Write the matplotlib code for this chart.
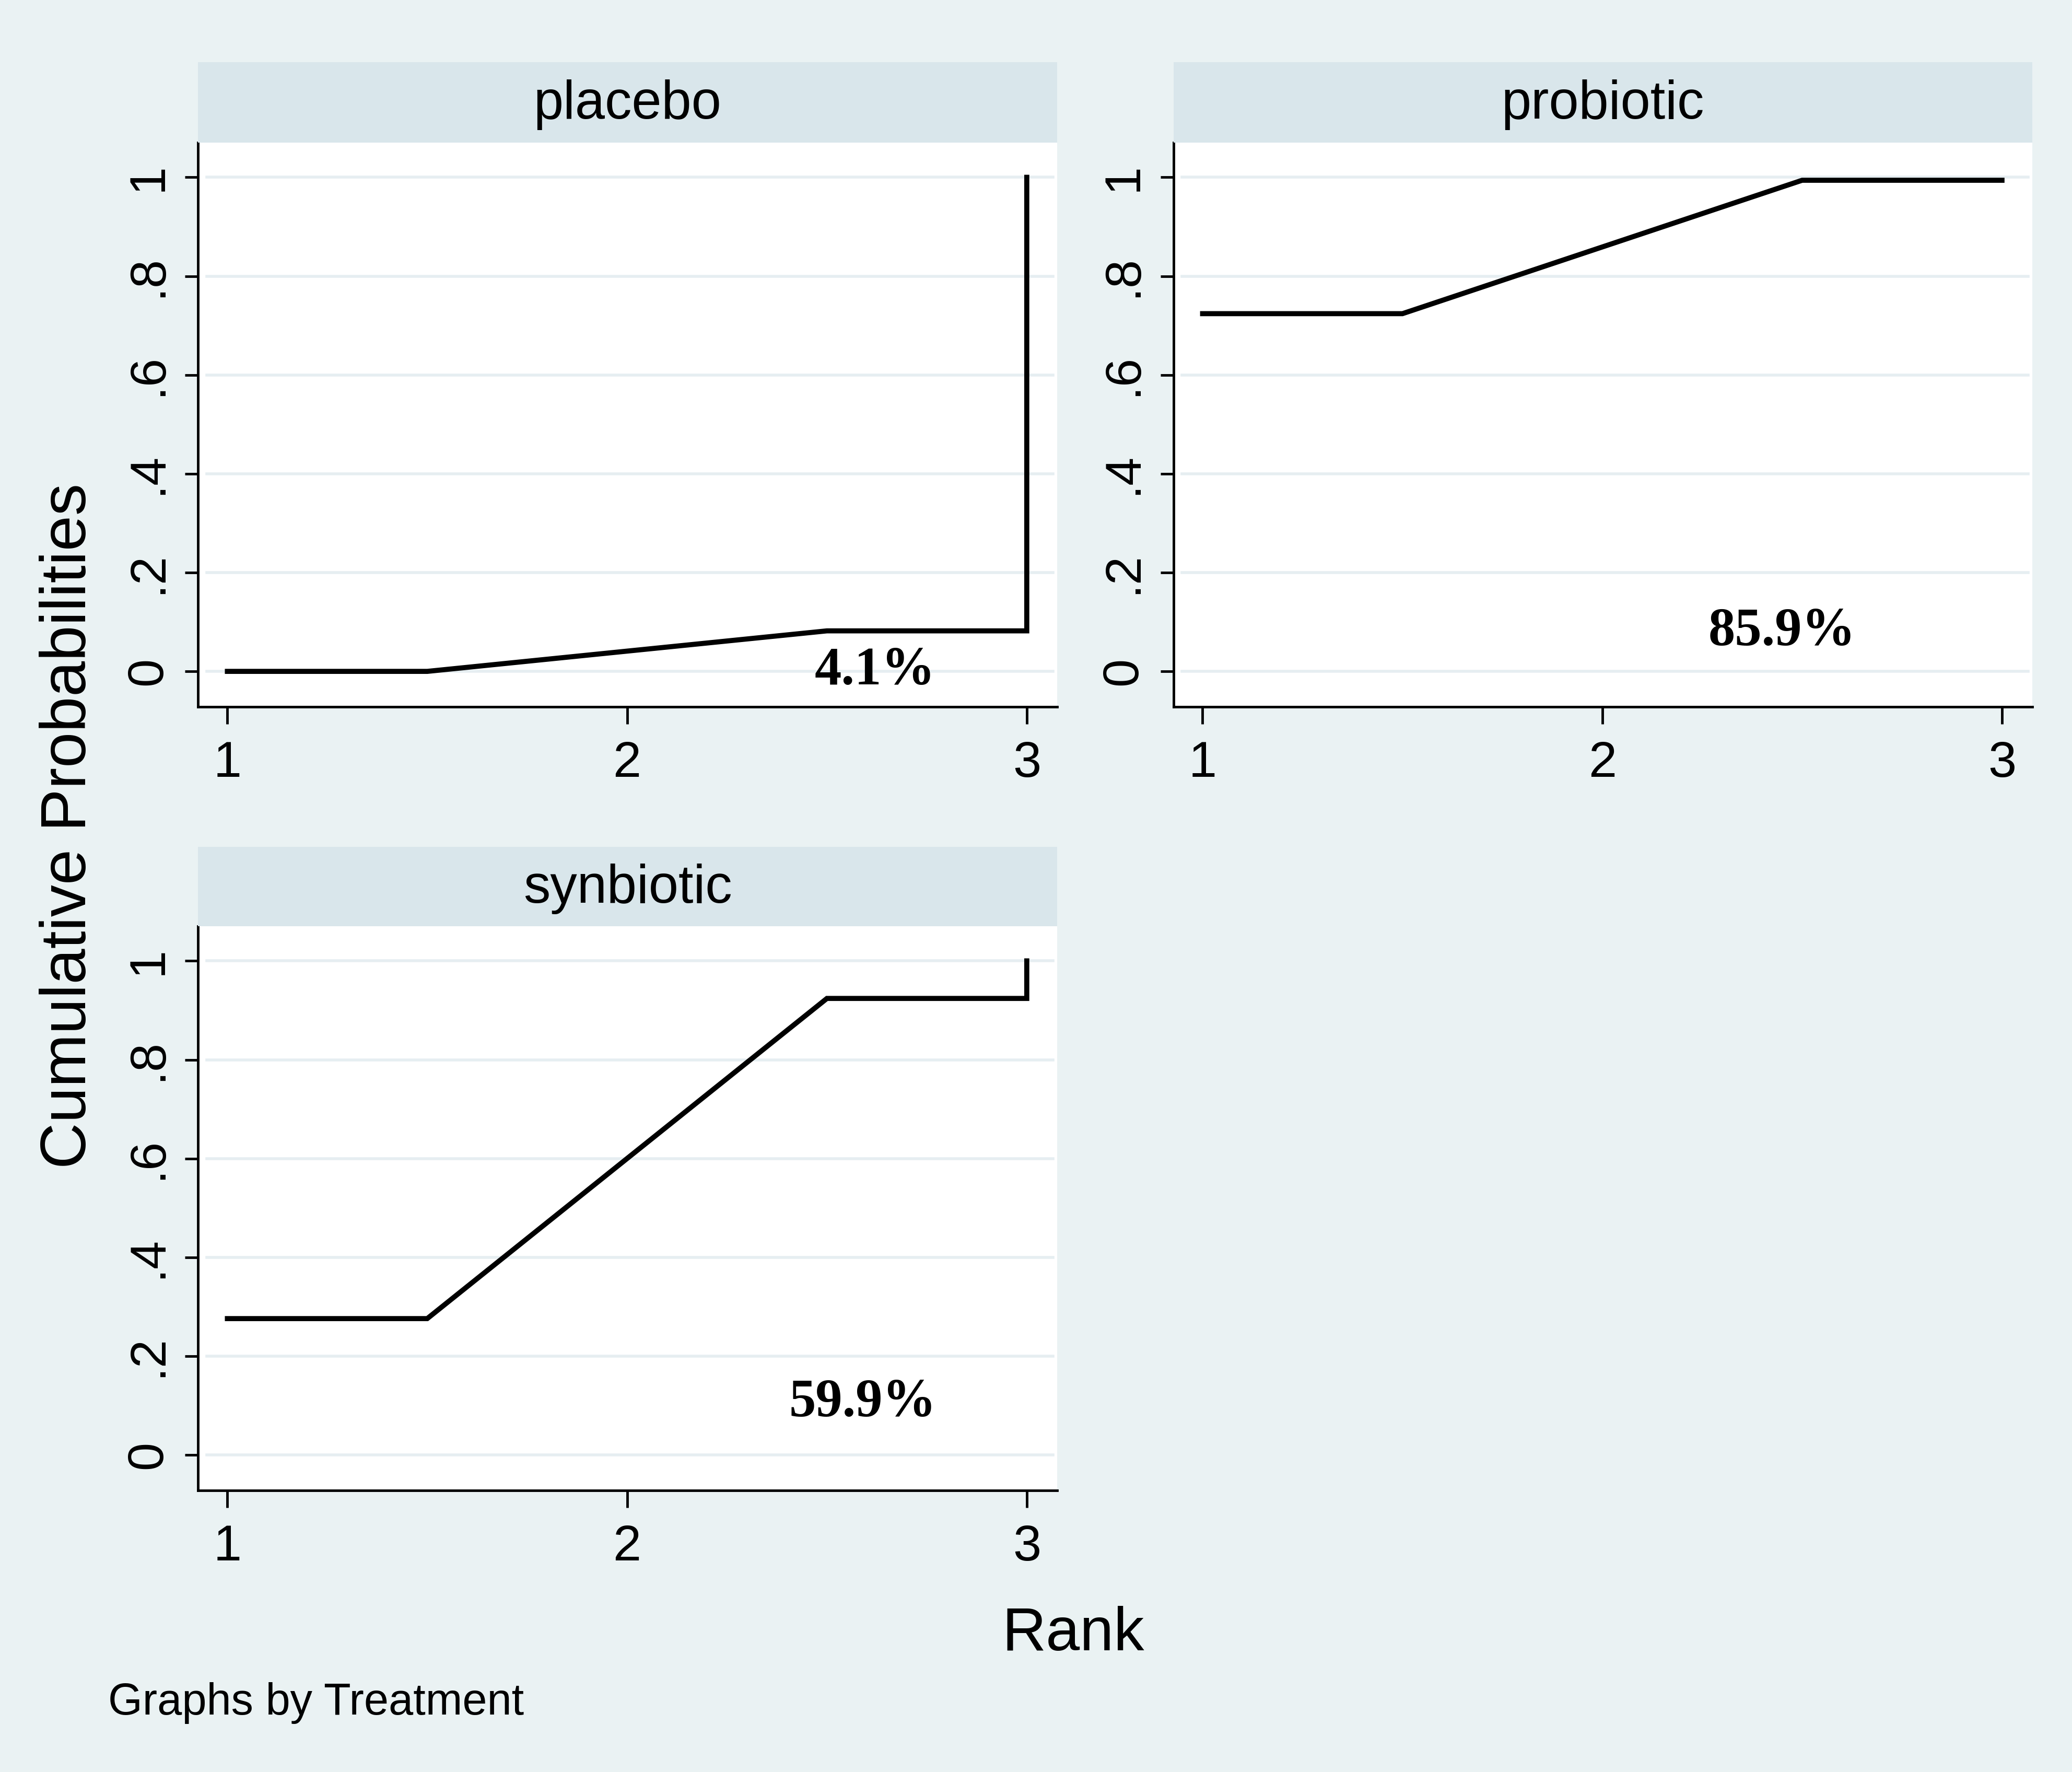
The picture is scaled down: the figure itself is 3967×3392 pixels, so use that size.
import matplotlib
matplotlib.use("Agg")
import matplotlib.pyplot as plt
from matplotlib import font_manager as fm

names = {f.name for f in fm.fontManager.ttflist}
NARROW = "Liberation Sans Narrow" if "Liberation Sans Narrow" in names else "Liberation Sans"
SANS = "Liberation Sans"
SERIF = "Liberation Serif"

# ---- data ----
treatments = ["placebo", "probiotic", "synbiotic"]
placebo_x = [1, 1.5, 2.5, 3, 3]
placebo_y = [0.0, 0.0, 0.082, 0.082, 1.0]
probiotic_x = [1, 1.5, 2.5, 3]
probiotic_y = [0.724, 0.724, 0.994, 0.994]
synbiotic_x = [1, 1.5, 2.5, 3, 3]
synbiotic_y = [0.276, 0.276, 0.924, 0.924, 1.0]
sucra_labels = ["4.1%", "85.9%", "59.9%"]
sucra_pos = [(2.62, 0.0), (2.45, 0.08), (2.59, 0.105)]
x_ticks = [1, 2, 3]
y_ticks = [0, 0.2, 0.4, 0.6, 0.8, 1.0]
y_ticklabels = ["0", ".2", ".4", ".6", ".8", "1"]

BG = "#eaf2f3"
HEADER = "#d9e6eb"
GRID = "#e6eef1"

W, H = 3967, 3392
fig = plt.figure(figsize=(W / 100, H / 100), dpi=100, facecolor=BG)

DW, DH = 1568.0, 1341.0
def rect(l, r, t, b):
    return [l / DW, 1 - b / DH, (r - l) / DW, (b - t) / DH]

panels = [
    (rect(150, 800, 108, 535), rect(150, 800, 47, 108)),
    (rect(888, 1538, 108, 535), rect(888, 1538, 47, 108)),
    (rect(150, 800, 701, 1128), rect(150, 800, 641, 701)),
]
series = [(placebo_x, placebo_y), (probiotic_x, probiotic_y), (synbiotic_x, synbiotic_y)]

for i, name in enumerate(treatments):
    pr, hr = panels[i]
    ax = fig.add_axes(pr, facecolor="white")
    ax.set_xlim(0.927, 3.076)
    ax.set_ylim(-0.072, 1.07)
    for yv in y_ticks:
        ax.axhline(yv, xmin=0.01, xmax=0.995, color=GRID, lw=4, zorder=1)
    xs, ys = series[i]
    ax.plot(xs, ys, color="black", lw=7, zorder=3, solid_joinstyle="miter")
    ax.set_xticks(x_ticks)
    ax.set_xticklabels([str(t) for t in x_ticks], fontfamily=NARROW, fontsize=70)
    ax.set_yticks(y_ticks)
    ax.set_yticklabels(y_ticklabels, fontfamily=SANS, fontsize=70,
                       rotation=90, va="center")
    ax.tick_params(axis="x", length=24, width=3.5, pad=22, direction="out")
    ax.tick_params(axis="y", length=18, width=3.5, pad=18, direction="out")
    for s in ["top", "right"]:
        ax.spines[s].set_visible(False)
    for s in ["left", "bottom"]:
        ax.spines[s].set_linewidth(3.5)
        ax.spines[s].set_color("black")
    tx, ty = sucra_pos[i]
    ax.text(tx, ty, sucra_labels[i], fontfamily=SERIF, fontweight="bold",
            fontsize=74, ha="center", va="center", zorder=4)

    hax = fig.add_axes(hr, facecolor=HEADER)
    hax.set_xticks([]); hax.set_yticks([])
    for s in hax.spines.values():
        s.set_visible(False)
    hax.text(0.5, 0.47, name, fontfamily=NARROW, fontsize=74,
             ha="center", va="center", transform=hax.transAxes)

fig.text(52 / DW, 1 - 625 / DH, "Cumulative Probabilities", fontfamily=SANS,
         fontsize=88, rotation=90, ha="center", va="center")
fig.text(812 / DW, 1 - 1237 / DH, "Rank", fontfamily=NARROW, fontsize=84,
         ha="center", va="center")
fig.text(82 / DW, 1 - 1289 / DH, "Graphs by Treatment", fontfamily=NARROW,
         fontsize=61, ha="left", va="center")

fig.savefig("out.png", dpi=100, facecolor=BG)
